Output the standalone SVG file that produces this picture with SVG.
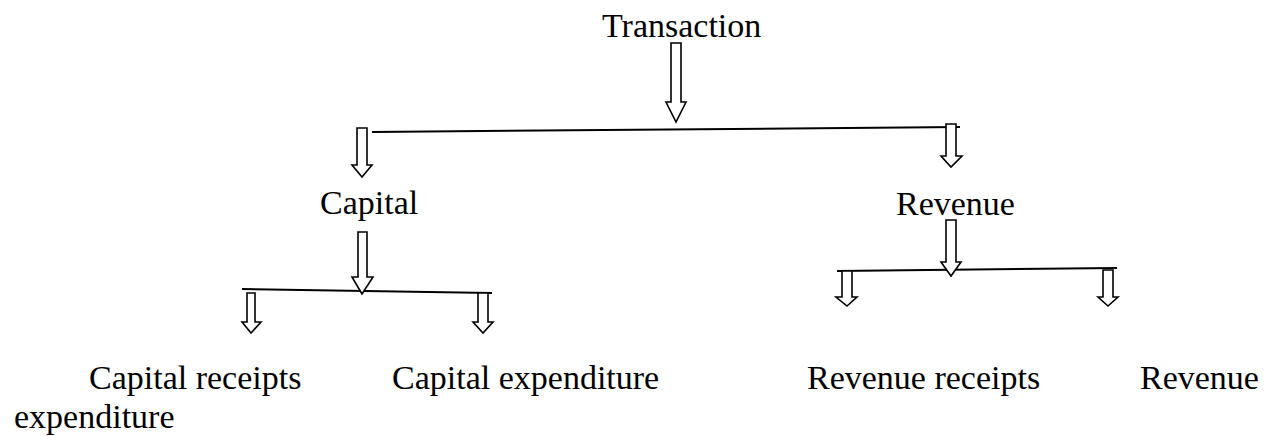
<svg xmlns="http://www.w3.org/2000/svg" width="1265" height="436" viewBox="0 0 1265 436">
<style>
.t{font-family:"Liberation Serif","Times New Roman",serif;font-size:34px;fill:#000}
.ln{stroke:#000;stroke-width:2;fill:none}
.ar{stroke:#000;stroke-width:1.6;fill:#fff;stroke-linejoin:miter}
</style>
<rect width="1265" height="436" fill="#fff"/>
<g id="connectors">
<line class="ln" x1="372" y1="132" x2="960" y2="127"/>
<line class="ln" x1="242" y1="289" x2="492" y2="293"/>
<line class="ln" x1="837" y1="271" x2="1117" y2="268"/>
<path class="ar" d="M671 43 H681 V102 H686 L676 122 L666 102 H671 Z"/>
<path class="ar" d="M357 128 H367 V165 H372 L362 177 L352 165 H357 Z"/>
<path class="ar" d="M946 124 H956 V156 H962 L951 167 L941 156 H946 Z"/>
<path class="ar" d="M358 232 H367 V277 H373 L362 294 L352 277 H358 Z"/>
<path class="ar" d="M247 293 H255 V322 H261 L251 333 L242 322 H247 Z"/>
<path class="ar" d="M478 293 H488 V322 H493 L483 333 L473 322 H478 Z"/>
<path class="ar" d="M946 220 H956 V262 H961 L951 276 L941 262 H946 Z"/>
<path class="ar" d="M842 271 H852 V297 H857 L847 306 L836 297 H842 Z"/>
<path class="ar" d="M1103 270 H1113 V297 H1118 L1108 306 L1098 297 H1103 Z"/>
</g>
<g id="node-transaction"><text class="t" x="602" y="37">Transaction</text></g>
<g id="node-capital"><text class="t" x="320" y="214">Capital</text></g>
<g id="node-revenue"><text class="t" x="896" y="215">Revenue</text></g>
<g id="node-capital-receipts"><text class="t" x="89" y="389">Capital receipts</text></g>
<g id="node-capital-expenditure"><text class="t" x="392" y="389">Capital expenditure</text></g>
<g id="node-revenue-receipts"><text class="t" x="807" y="389">Revenue receipts</text></g>
<g id="node-revenue-expenditure"><text class="t" x="1140" y="389">Revenue</text><text class="t" x="14" y="428">expenditure</text></g>
</svg>
